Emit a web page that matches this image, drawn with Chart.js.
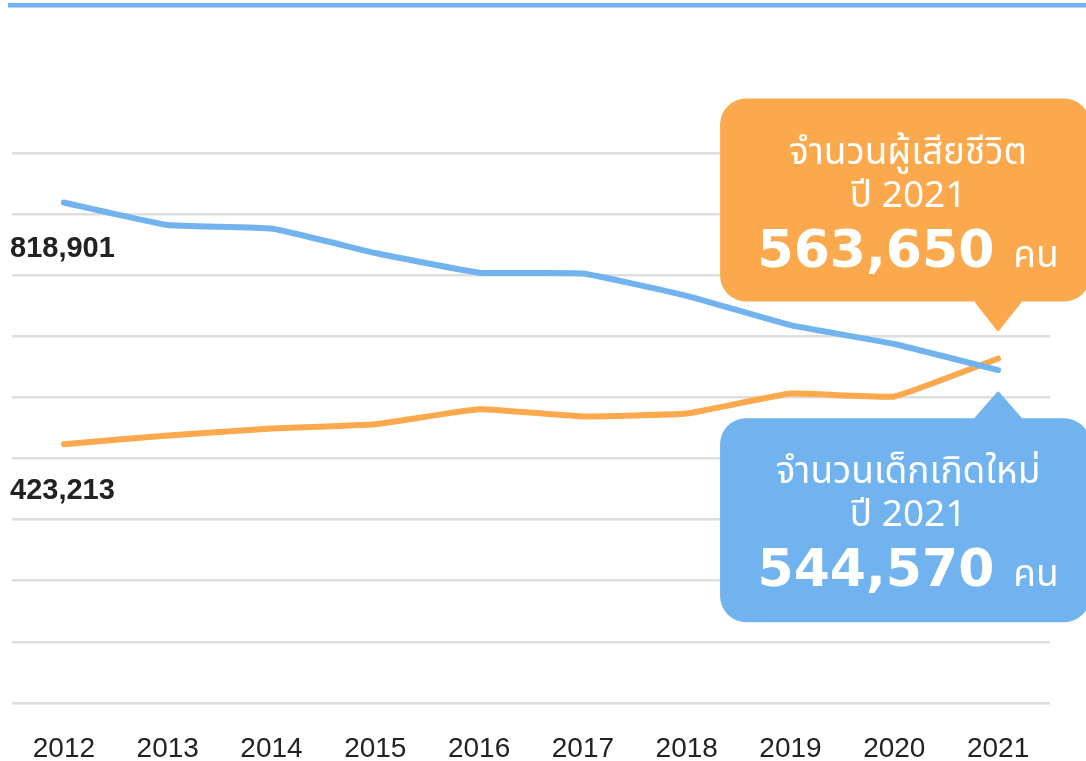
<!DOCTYPE html>
<html><head><meta charset="utf-8">
<script src="https://cdn.jsdelivr.net/npm/chart.js@4.4.1/dist/chart.umd.min.js"></script>
<style>html,body{margin:0;padding:0;background:#fff;} canvas{display:block}</style>
</head><body>
<canvas id="c" width="1086" height="761"></canvas>
<script>
const years = ['2012','2013','2014','2015','2016','2017','2018','2019','2020','2021'];
const births = [818901, 782129, 776370, 736352, 704058, 702755, 666109, 618193, 587368, 544570];
const deaths = [423213, 437700, 449000, 456000, 480434, 468911, 473541, 506211, 501438, 563650];
const yMin = 0, yMax = 900000, yStep = 100000;
const deathTitle = ['จำนวนผู้เสียชีวิต', 'ปี 2021'];
const birthTitle = ['จำนวนเด็กเกิดใหม่', 'ปี 2021'];
const unit = 'คน';

const BLUE = '#71B3EE', ORANGE = '#FCA94D';
const THAI = '"Noto Sans Thai","Noto Sans Thai UI","Kanit","Prompt","Noto Sans","DejaVu Sans",sans-serif';
const fmt = v => v.toLocaleString('en-US');

function roundRect(ctx, x, y, w, h, r) {
  ctx.beginPath();
  ctx.moveTo(x + r, y);
  ctx.arcTo(x + w, y, x + w, y + h, r);
  ctx.arcTo(x + w, y + h, x, y + h, r);
  ctx.arcTo(x, y + h, x, y, r);
  ctx.arcTo(x, y, x + w, y, r);
  ctx.closePath();
}

function callout(ctx, color, px, boxTop, boxH, baseY, apexY, lines, value) {
  ctx.save();
  ctx.fillStyle = color;
  roundRect(ctx, px - 278, boxTop, 370, boxH, 26);
  ctx.fill();
  ctx.beginPath();
  ctx.moveTo(px - 22, baseY);
  ctx.lineTo(px, apexY);
  ctx.lineTo(px + 22, baseY);
  ctx.closePath();
  ctx.strokeStyle = color; ctx.lineWidth = 3; ctx.lineJoin = 'round';
  ctx.fill(); ctx.stroke();
  const cx = px - 90;
  ctx.fillStyle = '#fff';
  ctx.textAlign = 'center';
  ctx.textBaseline = 'alphabetic';
  ctx.font = '37px ' + THAI;
  ctx.fillText(lines[0], cx, boxTop + 65);
  ctx.fillText(lines[1], cx, boxTop + 108);
  const numFont = 'bold 52px "DejaVu Sans", sans-serif';
  const unitFont = '37px ' + THAI;
  ctx.font = numFont; const wN = ctx.measureText(fmt(value)).width;
  ctx.font = unitFont; const wU = ctx.measureText(unit).width;
  const gap = 19;
  let sx = cx - (wN + gap + wU) / 2;
  ctx.textAlign = 'left';
  ctx.font = numFont; ctx.fillText(fmt(value), sx, boxTop + 168);
  ctx.font = unitFont; ctx.fillText(unit, sx + wN + gap, boxTop + 168);
  ctx.restore();
}

const decor = {
  id: 'decor',
  beforeDraw(chart) {
    const ctx = chart.ctx;
    ctx.save();
    ctx.fillStyle = BLUE;
    ctx.fillRect(8, 3, 1078, 4.5);
    ctx.restore();
  },
  afterDatasetsDraw(chart) {
    const ctx = chart.ctx;
    const xs = chart.scales.x, ys = chart.scales.y;
    const last = years.length - 1;
    const px = xs.getPixelForValue(last);
    const by = ys.getPixelForValue(births[last]);
    const dy = ys.getPixelForValue(deaths[last]);
    ctx.save();
    ctx.fillStyle = '#222';
    ctx.font = 'bold 29px "Liberation Sans", Arial, sans-serif';
    ctx.textAlign = 'left';
    ctx.textBaseline = 'alphabetic';
    ctx.fillText(fmt(births[0]), 10, ys.getPixelForValue(births[0]) + 54);
    ctx.fillText(fmt(deaths[0]), 10, ys.getPixelForValue(deaths[0]) + 55);
    ctx.restore();
    const oApex = dy - 29, oBase = oApex - 28;
    callout(ctx, ORANGE, px, oBase - 203, 203, oBase, oApex, deathTitle, deaths[last]);
    const bApex = by + 23, bBase = bApex + 25;
    callout(ctx, BLUE, px, bBase, 204, bBase, bApex, birthTitle, births[last]);
  }
};

new Chart(document.getElementById('c'), {
  type: 'line',
  data: {
    labels: years,
    datasets: [
      { label: 'births', data: births, borderColor: BLUE, borderWidth: 6, pointRadius: 0, tension: 0.1, borderCapStyle: 'round', borderJoinStyle: 'round' },
      { label: 'deaths', data: deaths, borderColor: ORANGE, borderWidth: 6, pointRadius: 0, tension: 0.1, borderCapStyle: 'round', borderJoinStyle: 'round' }
    ]
  },
  options: {
    responsive: false,
    animation: false,
    layout: { padding: { top: 153, left: 12, right: 36, bottom: -35.5 } },
    plugins: { legend: { display: false }, tooltip: { enabled: false } },
    scales: {
      x: {
        offset: true,
        grid: { display: false, drawTicks: false },
        border: { display: false },
        ticks: { color: '#222', padding: 30, font: { family: '"Liberation Sans", Arial, sans-serif', size: 28 } }
      },
      y: {
        min: yMin, max: yMax,
        ticks: { display: false, stepSize: yStep },
        grid: { color: '#dedede', lineWidth: 2.5, drawTicks: false },
        border: { display: false }
      }
    }
  },
  plugins: [decor]
});
</script>
</body></html>
